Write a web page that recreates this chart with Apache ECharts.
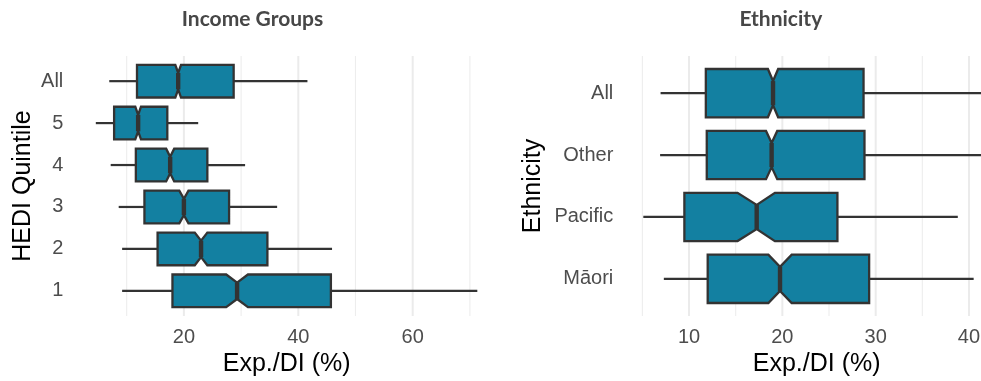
<!DOCTYPE html>
<html><head><meta charset="utf-8">
<script src="https://cdn.jsdelivr.net/npm/echarts@6/dist/echarts.min.js"></script>
<style>html,body{margin:0;padding:0;background:#fff}#c{width:981px;height:381px}</style>
</head><body><div id="c"></div>
<script>
// ---- Income Groups panel (bottom to top) ----
const incomeCats      = ['1', '2', '3', '4', '5', 'All'];
const incomeLow       = [9.2, 9.2, 8.6, 7.2, 4.6, 6.95];
const incomeQ1        = [18.0, 15.4, 13.1, 11.6, 7.8, 11.8];
const incomeNotchLow  = [27.4, 21.9, 19.2, 16.9, 11.5, 18.5];
const incomeMed       = [29.3, 23.0, 20.0, 17.6, 12.0, 19.0];
const incomeNotchHigh = [31.2, 24.1, 20.8, 18.3, 12.5, 19.5];
const incomeQ3        = [45.7, 34.6, 27.9, 24.1, 17.1, 28.7];
const incomeHigh      = [71.3, 45.9, 36.3, 30.7, 22.5, 41.6];
const incomeTickLabels = [20, 40, 60];
const incomeGridMajor  = [20, 40, 60];
const incomeGridMinor  = [10, 30, 50, 70];

// ---- Ethnicity panel (bottom to top) ----
const ethCats      = ['Māori', 'Pacific', 'Other', 'All'];
const ethLow       = [7.3, 5.1, 6.9, 6.95];
const ethQ1        = [12.0, 9.5, 11.9, 11.8];
const ethNotchLow  = [18.5, 15.2, 18.25, 18.45];
const ethMed       = [19.75, 17.25, 18.85, 19.0];
const ethNotchHigh = [21.0, 19.2, 19.45, 19.55];
const ethQ3        = [29.3, 25.9, 28.8, 28.7];
const ethHigh      = [40.5, 38.8, 41.8, 41.6];
const ethTickLabels = [10, 20, 30, 40];
const ethGridMajor  = [10, 20, 30, 40];
const ethGridMinor  = [5, 15, 25, 35];

const labelFont = 'Liberation Sans, Arial, Helvetica, sans-serif';
const titleFont = 'Lato, "Open Sans", sans-serif';

function boxData(cats, lo, q1, nlo, med, nhi, q3, hi) {
  return cats.map((c, i) => [i + 1, lo[i], q1[i], nlo[i], med[i], nhi[i], q3[i], hi[i]]);
}

function renderBox(params, api) {
  const y = api.value(0);
  const xs = [1, 2, 3, 4, 5, 6, 7].map(d => api.coord([api.value(d), y])[0]);
  const cy = api.coord([api.value(4), y])[1];
  const band = api.size([0, 1])[1];
  const hw = band * 0.39;
  const nh = hw * 0.5;
  const [lo, q1, nlo, med, nhi, q3, hi] = xs;
  const stroke = '#333333';
  return {
    type: 'group',
    children: [
      { type: 'line', shape: { x1: lo, y1: cy, x2: q1, y2: cy }, style: { stroke, lineWidth: 2.2 } },
      { type: 'line', shape: { x1: q3, y1: cy, x2: hi, y2: cy }, style: { stroke, lineWidth: 2.2 } },
      { type: 'polygon', shape: { points: [
          [q1, cy - hw], [nlo, cy - hw], [med, cy - nh], [nhi, cy - hw], [q3, cy - hw],
          [q3, cy + hw], [nhi, cy + hw], [med, cy + nh], [nlo, cy + hw], [q1, cy + hw]
        ] }, style: { fill: '#1380A1', stroke, lineWidth: 2.3, lineJoin: 'miter' } },
      { type: 'line', shape: { x1: med, y1: cy - nh, x2: med, y2: cy + nh }, style: { stroke, lineWidth: 4.4 } }
    ]
  };
}

function gridRenderer(width, color) {
  return function (params, api) {
    const x = api.coord([api.value(0), 1])[0];
    const cs = params.coordSys;
    return { type: 'line', shape: { x1: x, y1: cs.y, x2: x, y2: cs.y + cs.height },
             style: { stroke: color, lineWidth: width } };
  };
}

function xAxisCfg(idx, min, max, ticks) {
  return {
    gridIndex: idx, type: 'value', min, max,
    axisLine: { show: false }, axisTick: { show: false }, splitLine: { show: false },
    axisLabel: { customValues: ticks, color: '#4D4D4D', fontSize: 20, fontFamily: labelFont, margin: 11 },
    name: 'Exp./DI (%)', nameLocation: 'middle', nameGap: 36,
    nameTextStyle: { color: '#000000', fontSize: 25, fontFamily: labelFont }
  };
}
function yAxisCfg(idx, cats, name, gap) {
  return {
    gridIndex: idx, type: 'value', min: 0.4, max: cats.length + 0.6,
    axisLine: { show: false }, axisTick: { show: false }, splitLine: { show: false },
    axisLabel: { customValues: cats.map((c, i) => i + 1), formatter: v => cats[Math.round(v) - 1],
                 color: '#4D4D4D', fontSize: 20, fontFamily: labelFont, margin: 5 },
    name, nameLocation: 'middle', nameRotate: 90, nameGap: gap,
    nameTextStyle: { color: '#000000', fontSize: 25, fontFamily: labelFont }
  };
}

const chart = echarts.init(document.getElementById('c'), null, { renderer: 'canvas' });
chart.setOption({
  animation: false,
  backgroundColor: '#ffffff',
  grid: [
    { left: 68.3, top: 56, width: 436.7, height: 260, outerBoundsMode: 'none' },
    { left: 618.3, top: 56, width: 396.7, height: 260, outerBoundsMode: 'none' }
  ],
  xAxis: [
    xAxisCfg(0, -0.21, 76.14, incomeTickLabels),
    xAxisCfg(1, 2.42, 44.93, ethTickLabels)
  ],
  yAxis: [
    yAxisCfg(0, incomeCats, 'HEDI Quintile', 33),
    yAxisCfg(1, ethCats, 'Ethnicity', 73)
  ],
  graphic: [
    { type: 'text', x: 252.5, y: 19.5, style: { text: 'Income Groups', fill: '#474747', textAlign: 'center', textVerticalAlign: 'middle', font: 'bold 21px ' + titleFont } },
    { type: 'text', x: 780.8, y: 19.5, style: { text: 'Ethnicity', fill: '#474747', textAlign: 'center', textVerticalAlign: 'middle', font: 'bold 21px ' + titleFont } }
  ],
  series: [
    { type: 'custom', xAxisIndex: 0, yAxisIndex: 0, z: 1, silent: true, renderItem: gridRenderer(1.1, '#EDEDED'), encode: { x: 0 }, data: incomeGridMinor.map(v => [v]) },
    { type: 'custom', xAxisIndex: 0, yAxisIndex: 0, z: 1, silent: true, renderItem: gridRenderer(2, '#EBEBEB'), encode: { x: 0 }, data: incomeGridMajor.map(v => [v]) },
    { type: 'custom', xAxisIndex: 1, yAxisIndex: 1, z: 1, silent: true, renderItem: gridRenderer(1.1, '#EDEDED'), encode: { x: 0 }, data: ethGridMinor.map(v => [v]) },
    { type: 'custom', xAxisIndex: 1, yAxisIndex: 1, z: 1, silent: true, renderItem: gridRenderer(2, '#EBEBEB'), encode: { x: 0 }, data: ethGridMajor.map(v => [v]) },
    { type: 'custom', name: 'Income Groups', xAxisIndex: 0, yAxisIndex: 0, z: 3, clip: true, renderItem: renderBox,
      encode: { y: 0, x: [1, 2, 3, 4, 5, 6, 7] },
      data: boxData(incomeCats, incomeLow, incomeQ1, incomeNotchLow, incomeMed, incomeNotchHigh, incomeQ3, incomeHigh) },
    { type: 'custom', name: 'Ethnicity', xAxisIndex: 1, yAxisIndex: 1, z: 3, clip: true, renderItem: renderBox,
      encode: { y: 0, x: [1, 2, 3, 4, 5, 6, 7] },
      data: boxData(ethCats, ethLow, ethQ1, ethNotchLow, ethMed, ethNotchHigh, ethQ3, ethHigh) }
  ]
});
</script></body></html>
